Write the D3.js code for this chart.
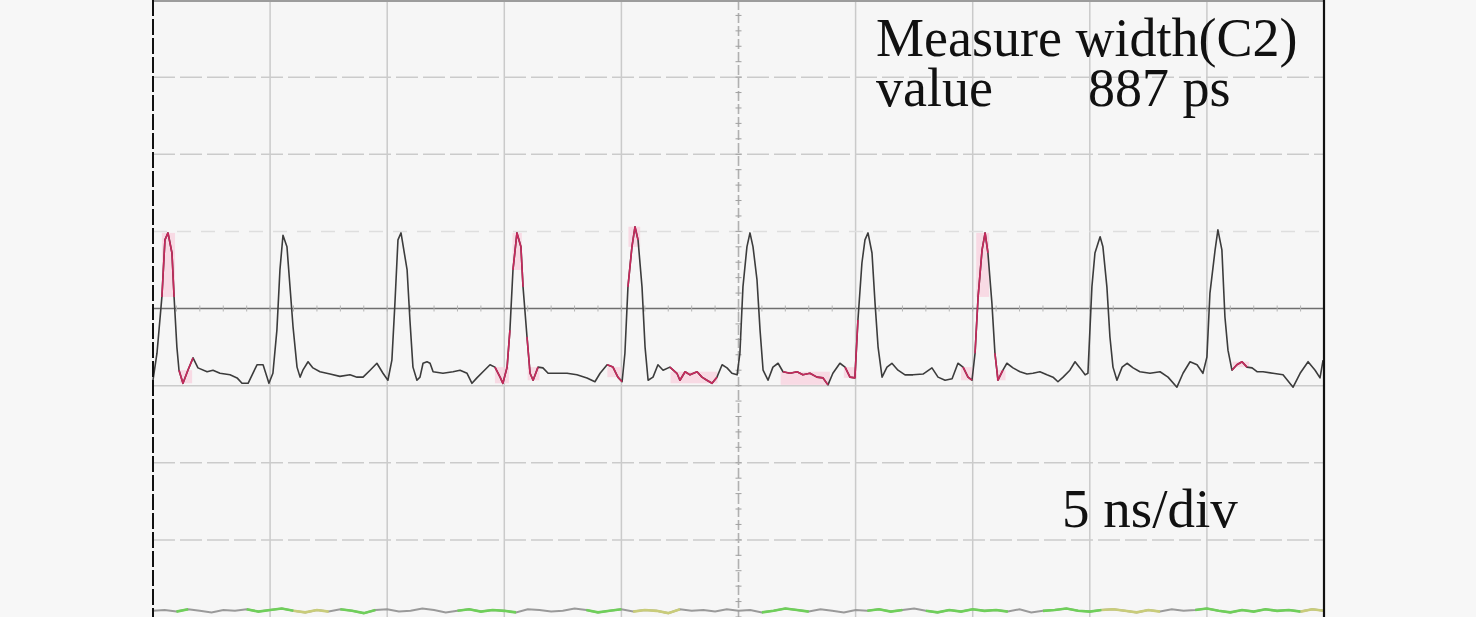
<!DOCTYPE html>
<html>
<head>
<meta charset="utf-8">
<script src="https://cdn.jsdelivr.net/npm/d3@7"></script>
<style>
  html, body { margin: 0; padding: 0; background: #f7f7f7; }
  svg { display: block; }
</style>
</head>
<body>
<svg id="chart" width="1476" height="617"></svg>
<script>
// ---- Data (time in ns, amplitude in mV; 5 ns/div, 100 mV/div) ----
const timeNs = [
  0, 0.17, 0.38, 0.51, 0.64, 0.81, 0.90, 1.02, 1.11, 1.28, 1.49, 1.71, 1.92, 2.31, 2.56, 2.86, 3.29, 3.59, 3.80, 4.06,
  4.44, 4.70, 4.87, 4.95, 5.12, 5.29, 5.42, 5.55, 5.72, 5.85, 5.98, 6.15, 6.28, 6.40, 6.62, 6.83, 7.13, 7.56, 7.98, 8.41,
  8.71, 8.97, 9.27, 9.56, 9.82, 10.03, 10.20, 10.33, 10.46, 10.59, 10.85, 10.97, 11.10, 11.27, 11.40, 11.53, 11.70, 11.83, 11.96, 12.38,
  12.81, 13.11, 13.41, 13.62, 13.83, 14.09, 14.39, 14.60, 14.82, 14.94, 15.12, 15.24, 15.37, 15.54, 15.71, 15.80, 15.97, 16.10, 16.23, 16.44,
  16.65, 16.87, 17.25, 17.68, 18.10, 18.53, 18.87, 19.09, 19.39, 19.64, 19.85, 20.03, 20.15, 20.28, 20.45, 20.58, 20.71, 20.88, 21.01, 21.14,
  21.35, 21.56, 21.78, 22.07, 22.37, 22.50, 22.72, 22.93, 23.23, 23.44, 23.65, 23.87, 24.08, 24.30, 24.51, 24.72, 24.94, 25.06, 25.19, 25.36,
  25.49, 25.62, 25.79, 25.92, 26.05, 26.26, 26.47, 26.69, 26.90, 27.20, 27.50, 27.75, 28.05, 28.35, 28.61, 28.82, 29.03, 29.33, 29.55, 29.76,
  29.97, 30.10, 30.27, 30.40, 30.53, 30.70, 30.83, 30.96, 31.13, 31.34, 31.55, 31.81, 32.11, 32.45, 32.88, 33.26, 33.52, 33.82, 34.12, 34.37,
  34.59, 34.80, 34.97, 35.10, 35.23, 35.40, 35.53, 35.65, 35.82, 35.95, 36.08, 36.29, 36.46, 36.72, 37.02, 37.32, 37.57, 37.87, 38.17, 38.43,
  38.64, 38.86, 39.15, 39.37, 39.58, 39.80, 39.92, 40.09, 40.22, 40.44, 40.56, 40.73, 40.86, 40.99, 41.16, 41.38, 41.59, 41.85, 42.14, 42.57,
  43.00, 43.34, 43.72, 43.98, 44.28, 44.58, 44.83, 45.00, 45.13, 45.35, 45.47, 45.64, 45.77, 45.90, 46.07, 46.28, 46.50, 46.71, 46.93, 47.14,
  47.40, 47.82, 48.25, 48.68, 48.98, 49.32, 49.62, 49.83, 49.96
];
const ch2mV = [
  -93, -58, 15, 89, 98, 72, 15, -50, -80, -97, -80, -64, -77, -82, -80, -84, -86, -90, -97, -97,
  -73, -73, -89, -97, -84, -28, 50, 95, 80, 28, -24, -76, -89, -80, -69, -77, -82, -85, -88, -86,
  -89, -89, -80, -71, -84, -93, -67, 7, 89, 98, 50, -15, -76, -93, -89, -71, -69, -71, -82, -84,
  -82, -80, -84, -97, -90, -82, -73, -76, -89, -97, -76, -28, 50, 98, 80, 28, -37, -84, -93, -76,
  -77, -84, -84, -84, -86, -90, -95, -84, -73, -76, -89, -95, -58, 28, 80, 106, 89, 28, -50, -93,
  -89, -73, -80, -76, -84, -93, -82, -86, -82, -89, -93, -97, -89, -73, -77, -84, -86, -58, 28, 80,
  98, 80, 37, -28, -80, -93, -76, -71, -82, -84, -82, -86, -84, -89, -90, -99, -84, -71, -76, -89,
  -90, -15, 59, 89, 98, 72, 7, -50, -89, -76, -71, -80, -86, -86, -85, -77, -89, -93, -91, -71,
  -76, -89, -93, -58, 15, 76, 98, 72, 7, -58, -93, -80, -71, -77, -82, -85, -84, -82, -86, -89,
  -95, -89, -80, -69, -77, -86, -84, 28, 72, 93, 80, 28, -37, -76, -93, -76, -71, -77, -82, -84,
  -82, -89, -102, -84, -69, -73, -84, -63, 20, 76, 102, 76, -11, -54, -80, -73, -69, -76, -77, -82,
  -82, -84, -86, -102, -84, -69, -80, -90, -67
];
// intervals (ns) highlighted by the width measurement
const highlightNs = [
  [0.38, 0.94], [1.15, 1.67], [14.6, 15.2], [15.35, 15.75], [16.0, 16.5], [19.4, 20.0], [20.3, 20.8],
  [22.1, 24.1], [26.8, 28.9], [29.5, 30.05], [34.5, 35.05], [35.15, 35.7], [36.0, 36.4], [46.1, 46.8]
];
// bottom channel (C1) samples, every 0.5 ns
const ch1mV = [
  -392,-391,-393,-390,-392,-394,-391,-392,-390,-393,
  -391,-389,-392,-394,-391,-393,-390,-392,-395,-391,
  -390,-393,-392,-389,-391,-394,-392,-390,-393,-391,
  -392,-394,-390,-391,-393,-392,-389,-391,-394,-392,
  -390,-393,-391,-392,-395,-390,-392,-391,-393,-390,
  -392,-391,-394,-392,-389,-391,-393,-390,-392,-394,
  -391,-392,-390,-393,-391,-389,-392,-394,-391,-393,
  -390,-392,-391,-393,-390,-394,-392,-391,-389,-392,
  -393,-391,-390,-392,-394,-391,-393,-390,-392,-391,
  -389,-392,-394,-391,-393,-390,-392,-391,-393,-390,-392
];
const ch1GreenNs = [[0.9,1.7],[3.8,6.0],[8.0,9.6],[12.8,15.5],[18.5,20.0],[26.0,28.0],[30.5,32.3],[33.0,36.5],[38.0,40.5],[44.5,49.0]];
const ch1YellowNs = [[6.0,7.5],[20.5,22.5],[40.5,43.0],[49.0,50]];
const measureLabel = "Measure width(C2)";
const valueLabel = "value";
const valueText = "887 ps";
const timebaseLabel = "5 ns/div";

// ---- Drawing ----
const svg = d3.select("#chart");
const x = d3.scaleLinear().domain([0, 50]).range([153, 1324]);
const y = d3.scaleLinear().domain([-400, 400]).range([617, 0]);

const pts = timeNs.map((t, i) => ({t, v: ch2mV[i]}));
const ch1 = ch1mV.map((v, i) => ({t: i * 0.5, v}));

// screen background
svg.append("rect").attr("x", x(0)).attr("y", 0).attr("width", x(50) - x(0)).attr("height", 617).attr("fill", "#f6f6f6");

const grid = svg.append("g");
// vertical divisions
d3.range(5, 50, 5).forEach(t => {
  const center = t === 25;
  grid.append("line").attr("x1", x(t)).attr("x2", x(t)).attr("y1", 0).attr("y2", 617)
    .attr("stroke", center ? "#b0b0b0" : "#cacaca").attr("stroke-width", center ? 1.6 : 1.5)
    .attr("stroke-dasharray", center ? "10,3" : null);
});
// horizontal divisions
d3.range(-300, 400, 100).forEach(v => {
  const center = v === 0;
  const faint = v === 100;
  const solid = center || v === -100;
  grid.append("line").attr("x1", x(0)).attr("x2", x(50)).attr("y1", y(v)).attr("y2", y(v))
    .attr("stroke", center ? "#6e6e6e" : (faint ? "#dedede" : "#cbcbcb"))
    .attr("stroke-width", center ? 1.6 : 1.5)
    .attr("stroke-dasharray", faint ? "14,10" : (solid ? null : "22,5"));
});
// minor ticks on center axes
d3.range(0, 50.01, 1).forEach(t => {
  grid.append("line").attr("x1", x(t)).attr("x2", x(t)).attr("y1", y(0) - 3).attr("y2", y(0) + 3)
    .attr("stroke", "#b4b4b4").attr("stroke-width", 1);
});
d3.range(-400, 400.01, 20).forEach(v => {
  grid.append("line").attr("x1", x(25) - 3).attr("x2", x(25) + 3).attr("y1", y(v)).attr("y2", y(v))
    .attr("stroke", "#a0a0a0").attr("stroke-width", 1);
});

// highlighted measurement regions
const line = d3.line().x(d => x(d.t)).y(d => y(d.v));
highlightNs.forEach(([a, b]) => {
  const sub = pts.filter(d => d.t >= a && d.t <= b);
  if (!sub.length) return;
  const hi = d3.max(sub, d => d.v), lo = d3.min(sub, d => d.v);
  svg.append("rect").attr("x", x(a)).attr("width", x(b) - x(a))
    .attr("y", y(hi)).attr("height", Math.max(4, y(lo) - y(hi)))
    .attr("fill", "#f9cfdd").attr("opacity", 0.7);
});

// main waveform
svg.append("path").datum(pts).attr("d", line).attr("fill", "none")
  .attr("stroke", "#3c3c3c").attr("stroke-width", 1.6).attr("stroke-linejoin", "round");
highlightNs.forEach(([a, b]) => {
  const sub = pts.filter(d => d.t >= a - 0.05 && d.t <= b + 0.05);
  if (sub.length < 2) return;
  svg.append("path").datum(sub).attr("d", line).attr("fill", "none")
    .attr("stroke", "#c8285c").attr("stroke-width", 1.6).attr("stroke-linejoin", "round");
});

// bottom channel
svg.append("path").datum(ch1).attr("d", line).attr("fill", "none")
  .attr("stroke", "#9a9a9a").attr("stroke-width", 2);
[[ch1GreenNs, "#6fcf5a"], [ch1YellowNs, "#c9cc7a"]].forEach(([ranges, col]) => {
  ranges.forEach(([a, b]) => {
    const sub = ch1.filter(d => d.t >= a && d.t <= b);
    if (sub.length < 2) return;
    svg.append("path").datum(sub).attr("d", line).attr("fill", "none")
      .attr("stroke", col).attr("stroke-width", 2.6);
  });
});

// screen borders
svg.append("line").attr("x1", x(0)).attr("x2", x(50)).attr("y1", 1).attr("y2", 1)
  .attr("stroke", "#9c9c9c").attr("stroke-width", 2);
svg.append("line").attr("x1", x(0)).attr("x2", x(0)).attr("y1", 0).attr("y2", 617)
  .attr("stroke", "#111").attr("stroke-width", 2).attr("stroke-dasharray", "16,3");
svg.append("line").attr("x1", x(50)).attr("x2", x(50)).attr("y1", 0).attr("y2", 617)
  .attr("stroke", "#111").attr("stroke-width", 2.2);

// texts
const font = "'Liberation Serif', 'Times New Roman', serif";
const readout = svg.append("text").attr("font-family", font).attr("font-size", 54).attr("fill", "#111");
readout.append("tspan").attr("x", 876).attr("y", 56).text(measureLabel);
readout.append("tspan").attr("x", 876).attr("y", 106).text(valueLabel);
readout.append("tspan").attr("x", 1088).attr("y", 106).text(valueText);
svg.append("text").attr("x", 1062).attr("y", 527).text(timebaseLabel)
  .attr("font-family", font).attr("font-size", 55).attr("fill", "#111");
</script>
</body>
</html>
